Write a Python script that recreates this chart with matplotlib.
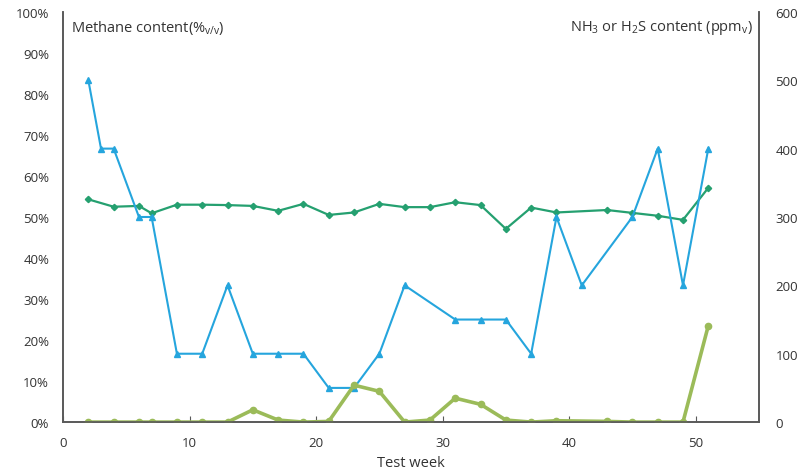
import matplotlib
matplotlib.use("Agg")
import matplotlib.pyplot as plt
from matplotlib.ticker import PercentFormatter

plt.rcParams['font.family'] = ['Open Sans', 'DejaVu Sans']
plt.rcParams['mathtext.default'] = 'regular'

# methane (left axis, %)
ch4_weeks = [2, 4, 6, 7, 9, 11, 13, 15, 17, 19, 21, 23, 25, 27, 29, 31, 33, 35, 37, 39, 43, 45, 47, 49, 51]
ch4_pct = [54.3, 52.5, 52.7, 50.9, 53.0, 53.0, 52.9, 52.7, 51.5, 53.2, 50.5, 51.1, 53.2, 52.4, 52.4, 53.6, 52.9, 47.1, 52.3, 51.1, 51.7, 51.0, 50.3, 49.3, 57.1]

# H2S (right axis, ppm)
h2s_weeks = [2, 3, 4, 6, 7, 9, 11, 13, 15, 17, 19, 21, 23, 25, 27, 31, 33, 35, 37, 39, 41, 45, 47, 49, 51]
h2s_ppm = [500, 400, 400, 300, 300, 100, 100, 200, 100, 100, 100, 50, 50, 100, 200, 150, 150, 150, 100, 300, 200, 300, 400, 200, 400]

# NH3 (right axis, ppm)
nh3_weeks = [2, 4, 6, 7, 9, 11, 13, 15, 17, 19, 21, 23, 25, 27, 29, 31, 33, 35, 37, 39, 43, 45, 47, 49, 51]
nh3_ppm = [0, 0, 0, 0, 0, 0, 0, 18, 3, 0, 1, 54, 45, 0, 3, 35, 26, 3, 0, 2, 1, 0, 0, 0, 141]

axis_col = '#595959'
text_col = '#333333'

fig = plt.figure(figsize=(7.98, 4.77), dpi=100)
ax = fig.add_axes([0.079, 0.113, 0.872, 0.86])
ax2 = ax.twinx()

ax.plot(ch4_weeks, ch4_pct, color='#25a070', lw=1.6, marker='D', ms=3.2)
ax2.plot(h2s_weeks, h2s_ppm, color='#25a5dd', lw=1.5, marker='^', ms=4)
ax2.plot(nh3_weeks, nh3_ppm, color='#9bbb59', lw=2.6, marker='o', ms=4.5)

ax.set_xlim(0, 55)
ax.set_ylim(0, 100)
ax2.set_ylim(0, 600)
ax.set_xticks([0, 10, 20, 30, 40, 50])
ax.set_yticks(range(0, 101, 10))
ax2.set_yticks(range(0, 601, 100))
ax.yaxis.set_major_formatter(PercentFormatter(decimals=0))

for a in (ax, ax2):
    a.spines['top'].set_visible(False)
    for s in ('left', 'right', 'bottom'):
        a.spines[s].set_color(axis_col)
        a.spines[s].set_linewidth(1.2)
    a.tick_params(labelsize=9.5, colors=text_col)

ax.tick_params(axis='x', direction='in', length=4, color=axis_col, pad=10)
ax.tick_params(axis='y', length=0, pad=10)
ax2.tick_params(axis='y', length=0, pad=12)

ax.set_xlabel('Test week', fontsize=10.5, color=text_col, labelpad=4)
ax.text(0.012, 0.985, 'Methane content(%$_{v/v}$)', transform=ax.transAxes,
        ha='left', va='top', fontsize=10.5, color=text_col)
ax2.text(0.992, 0.985, 'NH$_3$ or H$_2$S content (ppm$_v$)', transform=ax2.transAxes,
         ha='right', va='top', fontsize=10.5, color=text_col)

fig.savefig('out.png', dpi=100)
